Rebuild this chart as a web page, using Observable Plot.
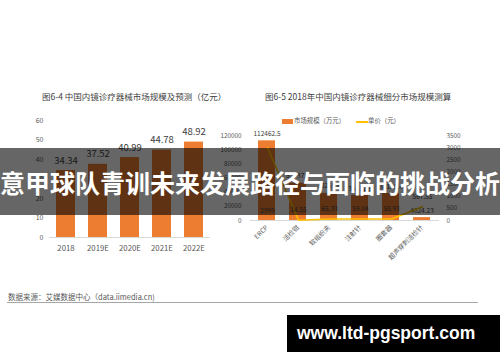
<!DOCTYPE html>
<html><head><meta charset="utf-8">
<script src="https://cdn.jsdelivr.net/npm/d3@7"></script>
<script src="https://cdn.jsdelivr.net/npm/@observablehq/plot@0.6"></script>
<style>
html,body{margin:0;padding:0;background:#fff;}
#root{position:relative;width:500px;height:362px;overflow:hidden;font-family:"Noto Sans CJK SC",sans-serif;background:#fff;}
#root svg{position:absolute;left:0;top:0;}
.abs{position:absolute;white-space:nowrap;line-height:1;}
.title{font-size:8.5px;color:#404040;}
#banner{position:absolute;left:0;top:148px;width:500px;height:67px;background:rgba(0,0,0,0.6);display:flex;align-items:center;justify-content:center;}
#banner span{color:#fff;font-weight:bold;font-size:25px;white-space:nowrap;font-family:"Noto Sans CJK SC",sans-serif;}
#wm{position:absolute;left:287px;top:315px;width:213px;height:37px;background:#000;}
#wm span{position:absolute;left:10px;top:8px;color:#fff;font-weight:bold;font-size:17.5px;font-family:"Liberation Sans",Arial,sans-serif;white-space:nowrap;}
</style></head>
<body><div id="root"></div>
<script>
// Left chart: 中国内镜诊疗器械市场规模及预测（亿元）
const years = ["2018", "2019E", "2020E", "2021E", "2022E"];
const marketSize = [34.34, 37.52, 40.99, 44.78, 48.92];
const marketTicks = [0, 10, 20, 30, 40, 50, 60];

// Right chart: 2018年中国内镜诊疗器械细分市场规模测算
const segments = ["ERCP", "活检钳", "软组织夹", "注射针", "圈套器", "超声穿刺活检针"];
const segmentSize = [112462.5, 52737.1, 38259.6, 35412.8, 38120.4, 4024.23];   // 万元
const unitPrice = [2999, 14.55, 65.33, 59.04, 58.93, 567.55];                  // 元
const sizeTicks = [0, 20000, 40000, 60000, 80000, 100000, 120000];
const priceTicks = [0, 500, 1000, 1500, 2000, 2500, 3000, 3500];

const titleLeft = "图6-4 中国内镜诊疗器械市场规模及预测（亿元）";
const titleRight = "图6-5 2018年中国内镜诊疗器械细分市场规模测算";
const legendLabels = ["市场规模（万元）", "单价（元）"];
const sourceText = "数据来源：艾媒数据中心（data.iimedia.cn)";
const bannerText = "意甲球队青训未来发展路径与面临的挑战分析";
const watermark = "www.ltd-pgsport.com";

const ORANGE = "#ED7D31", GOLD = "#FFC000", GREY = "#595959";
const root = document.getElementById("root");
const font = '"Noto Sans CJK SC", sans-serif';

const leftData = years.map((y, i) => ({year: y, value: marketSize[i]}));
const rightData = segments.map((s, i) => ({name: s, size: segmentSize[i], price: unitPrice[i]}));

const base = {width: 500, height: 362, style: {background: "none", fontFamily: font, color: GREY, overflow: "visible"}};

// Left chart
const left = Plot.plot({
  ...base,
  marginLeft: 49, marginRight: 290, marginTop: 120, marginBottom: 125,
  x: {domain: years, paddingInner: 0.42, paddingOuter: 0.21},
  y: {domain: [0, 60]},
  marks: [
    Plot.axisY({ticks: marketTicks, tickSize: 0, tickPadding: 6, fontSize: 7, label: null}),
    Plot.axisX({tickSize: 0, tickPadding: 8, fontSize: 7.8, label: null}),
    Plot.barY(leftData, {x: "year", y: "value", fill: ORANGE}),
    Plot.ruleY([0], {stroke: "#d9d9d9"}),
    Plot.text(leftData, {x: "year", y: "value", text: d => d.value.toFixed(2), dy: -10, fontSize: 9.5, fill: "#404040"})
  ]
});
root.appendChild(left);

// Right chart - bars (left axis)
const rightGeom = {
  ...base,
  marginLeft: 250, marginRight: 61, marginTop: 135, marginBottom: 142
};
const rightX = {domain: segments, paddingInner: 0.45, paddingOuter: 0.254};
const rightBars = Plot.plot({
  ...rightGeom,
  x: rightX,
  y: {domain: [0, 120000]},
  marks: [
    Plot.axisY({ticks: sizeTicks, tickSize: 0, tickPadding: 9, fontSize: 6.3, label: null, tickFormat: d => String(d)}),
    Plot.axisX({tickSize: 0, tickPadding: 6, tickRotate: -45, fontSize: 6.5, label: null}),
    Plot.barY(rightData, {x: "name", y: "size", fill: ORANGE}),
    Plot.ruleY([0], {stroke: "#d9d9d9"}),
    Plot.text(rightData, {x: "name", y: "size", text: d => String(d.size), dy: -7, fontSize: 6.5, fill: "#404040"})
  ]
});
root.appendChild(rightBars);

// Right chart - unit price line (right axis)
const rightLine = Plot.plot({
  ...rightGeom,
  x: {...rightX, axis: null},
  y: {domain: [0, 3500]},
  marks: [
    Plot.axisY({anchor: "right", ticks: priceTicks, tickSize: 0, tickPadding: 7, fontSize: 6.3, label: null, tickFormat: d => String(d)}),
    Plot.line(rightData, {x: "name", y: "price", stroke: GOLD, strokeWidth: 1.5}),
    Plot.text(rightData, {x: "name", y: d => d.name === "ERCP" ? 0 : d.price, text: d => String(d.price), dy: -10, fontSize: 6.5, fill: "#404040"})
  ]
});
root.appendChild(rightLine);

function addText(txt, cls, x, y, extra) {
  const el = document.createElement("div");
  el.className = "abs " + cls;
  el.textContent = txt;
  el.style.left = x + "px";
  el.style.top = y + "px";
  if (extra) Object.assign(el.style, extra);
  root.appendChild(el);
  return el;
}
addText(titleLeft, "title", 42, 92);
addText(titleRight, "title", 265, 92);

// legend
const sw1 = document.createElement("div");
Object.assign(sw1.style, {position: "absolute", left: "282px", top: "119px", width: "11px", height: "5px", background: ORANGE});
root.appendChild(sw1);
addText(legendLabels[0], "", 294, 118, {fontSize: "6.4px", color: GREY});
const sw2 = document.createElement("div");
Object.assign(sw2.style, {position: "absolute", left: "356px", top: "121px", width: "12px", height: "1.5px", background: GOLD});
root.appendChild(sw2);
addText(legendLabels[1], "", 368, 118, {fontSize: "6.4px", color: GREY});

// source + rule
addText(sourceText, "", 8, 293, {fontSize: "7.5px", color: GREY});
const hr = document.createElement("div");
Object.assign(hr.style, {position: "absolute", left: "7px", top: "302px", width: "471px", height: "1px", background: "#a6a6a6"});
root.appendChild(hr);

// banner overlay
const banner = document.createElement("div");
banner.id = "banner";
const bs = document.createElement("span");
bs.textContent = bannerText;
banner.appendChild(bs);
root.appendChild(banner);

// watermark
const wm = document.createElement("div");
wm.id = "wm";
const ws = document.createElement("span");
ws.textContent = watermark;
wm.appendChild(ws);
root.appendChild(wm);
</script>
</body></html>
